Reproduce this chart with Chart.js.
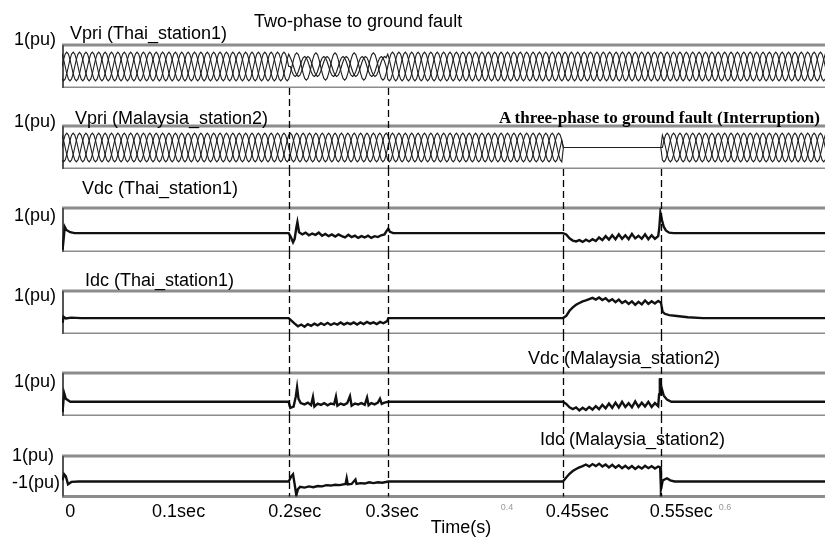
<!DOCTYPE html>
<html>
<head>
<meta charset="utf-8">
<script src="https://cdn.jsdelivr.net/npm/chart.js@4.4.1/dist/chart.umd.min.js"></script>
<style>
  html, body { margin: 0; padding: 0; background: #fff; }
  body { width: 825px; height: 540px; overflow: hidden; position: relative; }
  .panel { position: absolute; left: 0; }
  .lbl {
    position: absolute; font-family: 'Liberation Sans', Arial, sans-serif; font-size: 18px;
    line-height: 1; transform: translateY(-50%); white-space: nowrap; color: #000; z-index: 5;
  }
  .pu { text-align: right; }
  .serif { font-family: 'Liberation Serif', 'Times New Roman', serif; font-weight: bold; font-size: 17px; }
</style>
</head>
<body>

<canvas id="p1" class="panel" width="860" height="88" style="top:0px"></canvas>
<canvas id="p2" class="panel" width="860" height="81" style="top:88px"></canvas>
<canvas id="p3" class="panel" width="860" height="83" style="top:169px"></canvas>
<canvas id="p4" class="panel" width="860" height="82" style="top:252px"></canvas>
<canvas id="p5" class="panel" width="860" height="82" style="top:334px"></canvas>
<canvas id="p6" class="panel" width="860" height="124" style="top:416px"></canvas>

<div class="lbl" style="left:254px; top:21px">Two-phase to ground fault</div>
<div class="lbl" style="left:70px; top:33px">Vpri (Thai_station1)</div>
<div class="lbl pu" style="right:769px; top:39px">1(pu)</div>
<div class="lbl" style="left:75px; top:118px">Vpri (Malaysia_station2)</div>
<div class="lbl pu" style="right:769px; top:121px">1(pu)</div>
<div class="lbl serif" style="left:499px; top:117px">A three-phase to ground fault (Interruption)</div>
<div class="lbl" style="left:82px; top:188px">Vdc (Thai_station1)</div>
<div class="lbl pu" style="right:769px; top:215px">1(pu)</div>
<div class="lbl" style="left:85px; top:280px">Idc (Thai_station1)</div>
<div class="lbl pu" style="right:769px; top:295px">1(pu)</div>
<div class="lbl" style="left:528px; top:358px">Vdc (Malaysia_station2)</div>
<div class="lbl pu" style="right:769px; top:381px">1(pu)</div>
<div class="lbl" style="left:540px; top:439px">Idc (Malaysia_station2)</div>
<div class="lbl pu" style="right:771px; top:455px">1(pu)</div>
<div class="lbl pu" style="right:765px; top:482px">-1(pu)</div>

<script>
// time axis (s)
const xMin = -0.0055
const xMax = 0.7233
const eventTimes = [0.202, 0.292, 0.452, 0.542]

// bottom axis labels
const tickValues = [0.002, 0.101, 0.207, 0.296, 0.401, 0.465, 0.56, 0.6]
const tickLabels = ['0', '0.1sec', '0.2sec', '0.3sec', '0.4', '0.45sec', '0.55sec', '0.6']
const minorTickLabels = ['0.4', '0.6']

// one cycle of a primary phase voltage (pu)
const cycleShape = [0, 0.5, 0.87, 1, 0.87, 0.5, 0, -0.5, -0.87, -1, -0.87, -0.5]
const vpriPeriod = 0.0175

// Thai station: before / during / after the two-phase fault
const thaiEdges = [0.202, 0.292]
const thaiAmpA = [1, 0.95, 1]
const thaiAmpB = [1, 0.7, 1]
const thaiAmpC = [1, 0.7, 1]
const thaiShiftA = [0, 0, 0]
const thaiShiftB = [4, 5, 4]
const thaiShiftC = [8, 7, 8]

// Malaysia station: before / during / after the three-phase interruption
const malayEdges = [0.452, 0.542]
const malayAmp = [1, 0, 1]
const malayShiftA = [0, 0, 0]
const malayShiftB = [4, 4, 4]
const malayShiftC = [8, 8, 8]

// DC quantities, [time s, level] with the panel spanning 0..1
const vdcThai = [
    [-0.005, 0.05], [-0.004, 0.30], [-0.003, 0.57], [-0.0015, 0.50], [0.002, 0.45], [0.006, 0.43],
    [0.2015, 0.43], [0.2035, 0.34], [0.2055, 0.22], [0.207, 0.30], [0.2085, 0.55], [0.2095, 0.68],
    [0.211, 0.45], [0.214, 0.40], [0.217, 0.44], [0.220, 0.38], [0.223, 0.42], [0.226, 0.39],
    [0.229, 0.44], [0.232, 0.37], [0.235, 0.41], [0.238, 0.36], [0.241, 0.40], [0.244, 0.35],
    [0.247, 0.40], [0.250, 0.36], [0.253, 0.33], [0.256, 0.39], [0.259, 0.34], [0.262, 0.37],
    [0.265, 0.32], [0.268, 0.36], [0.271, 0.33], [0.274, 0.37], [0.277, 0.32], [0.280, 0.36],
    [0.283, 0.34], [0.286, 0.38], [0.289, 0.40], [0.291, 0.48], [0.2925, 0.53], [0.294, 0.46],
    [0.297, 0.43], [0.452, 0.43], [0.455, 0.40], [0.458, 0.31], [0.461, 0.26], [0.464, 0.24],
    [0.467, 0.27], [0.470, 0.23], [0.473, 0.28], [0.476, 0.24], [0.479, 0.29], [0.482, 0.25],
    [0.485, 0.33], [0.488, 0.27], [0.491, 0.36], [0.494, 0.28], [0.497, 0.38], [0.500, 0.29],
    [0.503, 0.40], [0.506, 0.30], [0.509, 0.38], [0.512, 0.29], [0.515, 0.41], [0.518, 0.31],
    [0.521, 0.37], [0.524, 0.30], [0.527, 0.40], [0.530, 0.29], [0.533, 0.38], [0.536, 0.30],
    [0.539, 0.36], [0.540, 0.55], [0.541, 0.89], [0.5425, 0.72], [0.544, 0.58], [0.546, 0.49],
    [0.549, 0.44], [0.553, 0.43], [0.7233, 0.43]
]

const idcThai = [
    [-0.005, 0.26], [-0.004, 0.40], [-0.002, 0.36], [0.003, 0.38], [0.012, 0.37],
    [0.2015, 0.37], [0.204, 0.31], [0.207, 0.24], [0.210, 0.18], [0.213, 0.22], [0.216, 0.17],
    [0.219, 0.23], [0.222, 0.19], [0.225, 0.24], [0.228, 0.20], [0.231, 0.25], [0.234, 0.21],
    [0.237, 0.26], [0.240, 0.21], [0.243, 0.25], [0.246, 0.22], [0.249, 0.27], [0.252, 0.22],
    [0.255, 0.26], [0.258, 0.23], [0.261, 0.27], [0.264, 0.22], [0.267, 0.27], [0.270, 0.23],
    [0.273, 0.28], [0.276, 0.24], [0.279, 0.27], [0.282, 0.23], [0.285, 0.28], [0.288, 0.25],
    [0.2915, 0.30], [0.2925, 0.37], [0.452, 0.37], [0.455, 0.42], [0.458, 0.54], [0.461, 0.62],
    [0.464, 0.68], [0.467, 0.72], [0.470, 0.76], [0.473, 0.78], [0.476, 0.81], [0.479, 0.84],
    [0.482, 0.80], [0.485, 0.85], [0.488, 0.79], [0.491, 0.83], [0.494, 0.76], [0.497, 0.81],
    [0.500, 0.74], [0.503, 0.80], [0.506, 0.72], [0.509, 0.77], [0.512, 0.70], [0.515, 0.76],
    [0.518, 0.68], [0.521, 0.75], [0.524, 0.69], [0.527, 0.78], [0.530, 0.70], [0.533, 0.76],
    [0.536, 0.71], [0.539, 0.77], [0.5415, 0.73], [0.543, 0.52], [0.545, 0.47], [0.549, 0.44],
    [0.556, 0.42], [0.566, 0.39], [0.580, 0.37], [0.7233, 0.37]
]

const vdcMalay = [
    [-0.005, 0.09], [-0.0042, 0.35], [-0.0035, 0.53], [-0.002, 0.40], [0.002, 0.33],
    [0.2015, 0.33], [0.203, 0.19], [0.206, 0.22], [0.208, 0.45], [0.2092, 0.67], [0.2105, 0.40],
    [0.2125, 0.30], [0.216, 0.27], [0.219, 0.31], [0.222, 0.25], [0.2237, 0.44], [0.225, 0.22],
    [0.228, 0.29], [0.231, 0.26], [0.234, 0.30], [0.237, 0.25], [0.240, 0.29], [0.243, 0.27],
    [0.2447, 0.45], [0.246, 0.24], [0.249, 0.29], [0.252, 0.26], [0.255, 0.30], [0.2575, 0.46],
    [0.259, 0.24], [0.262, 0.29], [0.265, 0.27], [0.268, 0.30], [0.271, 0.26], [0.2731, 0.43],
    [0.2745, 0.25], [0.277, 0.30], [0.280, 0.27], [0.283, 0.31], [0.2849, 0.40], [0.2865, 0.28],
    [0.289, 0.31], [0.2925, 0.33], [0.452, 0.33], [0.455, 0.28], [0.458, 0.20], [0.461, 0.16],
    [0.464, 0.20], [0.467, 0.13], [0.470, 0.19], [0.473, 0.14], [0.476, 0.21], [0.479, 0.15],
    [0.482, 0.23], [0.485, 0.16], [0.488, 0.26], [0.491, 0.18], [0.494, 0.29], [0.497, 0.19],
    [0.500, 0.31], [0.503, 0.20], [0.506, 0.33], [0.509, 0.21], [0.512, 0.30], [0.515, 0.20],
    [0.518, 0.34], [0.521, 0.21], [0.524, 0.31], [0.527, 0.22], [0.530, 0.33], [0.533, 0.21],
    [0.536, 0.30], [0.539, 0.23], [0.5398, 0.50], [0.5405, 0.88], [0.542, 0.66], [0.544, 0.48],
    [0.547, 0.38], [0.551, 0.33], [0.7233, 0.33]
]

const idcMalay = [
    [-0.005, 0.40], [-0.0035, 0.55], [-0.002, 0.50], [0.000, 0.30], [0.003, 0.36], [0.010, 0.37],
    [0.2015, 0.37], [0.204, 0.50], [0.2055, 0.55], [0.207, 0.30], [0.2085, 0.03], [0.210, 0.18],
    [0.212, 0.24], [0.216, 0.22], [0.220, 0.25], [0.224, 0.23], [0.228, 0.26], [0.232, 0.25],
    [0.236, 0.28], [0.240, 0.27], [0.244, 0.29], [0.248, 0.28], [0.2535, 0.31], [0.2545, 0.45],
    [0.2555, 0.30], [0.259, 0.31], [0.2625, 0.42], [0.2635, 0.31], [0.267, 0.33], [0.271, 0.32],
    [0.275, 0.35], [0.279, 0.33], [0.283, 0.35], [0.287, 0.34], [0.2925, 0.37], [0.452, 0.37],
    [0.455, 0.47], [0.458, 0.56], [0.461, 0.63], [0.464, 0.68], [0.467, 0.72], [0.470, 0.75],
    [0.473, 0.79], [0.476, 0.74], [0.479, 0.80], [0.482, 0.75], [0.485, 0.81], [0.488, 0.74],
    [0.491, 0.79], [0.494, 0.72], [0.497, 0.78], [0.500, 0.71], [0.503, 0.77], [0.506, 0.70],
    [0.509, 0.76], [0.512, 0.69], [0.515, 0.75], [0.518, 0.68], [0.521, 0.74], [0.524, 0.69],
    [0.527, 0.76], [0.530, 0.70], [0.533, 0.75], [0.536, 0.69], [0.539, 0.74], [0.5408, 0.72],
    [0.5415, 0.18], [0.5432, 0.40], [0.547, 0.45], [0.550, 0.40], [0.554, 0.37], [0.7233, 0.37]
]


// build a phase trace by walking the cycle shape with the segment amplitude / phase
function phaseSeries(edges, amps, shifts) {
    const step = vpriPeriod / cycleShape.length
    const pts = []
    for (let k = 0; xMin + k * step <= xMax; k++) {
        const t = xMin + k * step
        let seg = 0
        while (seg < edges.length && t >= edges[seg]) seg++
        const i = (k + shifts[seg]) % cycleShape.length
        pts.push({ x: t, y: amps[seg] * cycleShape[i] })
    }
    return pts
}

const toPoints = arr => arr.map(p => ({ x: p[0], y: p[1] }))

// frame around each panel and the dashed fault markers
const panelFrame = {
    id: 'panelFrame',
    beforeDatasetsDraw(chart) {
        const { ctx, chartArea: a } = chart
        ctx.save()
        ctx.strokeStyle = '#8c8c8c'
        ctx.lineWidth = 3
        ctx.beginPath()
        ctx.moveTo(a.left, a.top); ctx.lineTo(a.right, a.top)
        ctx.moveTo(a.left, a.bottom); ctx.lineTo(a.right, a.bottom)
        ctx.stroke()
        ctx.strokeStyle = '#555'
        ctx.lineWidth = 2
        ctx.beginPath()
        ctx.moveTo(a.left + 1, a.top); ctx.lineTo(a.left + 1, a.bottom)
        ctx.stroke()
        ctx.restore()
    },
    afterDatasetsDraw(chart, args, opts) {
        const { ctx, chartArea: a } = chart
        const x = chart.scales.x
        ctx.save()
        ctx.strokeStyle = '#000'
        ctx.lineWidth = 1.3
        ctx.setLineDash([7, 4])
        ;(opts.lines || []).forEach(t => {
            const px = Math.round(x.getPixelForValue(t)) + 0.5
            ctx.beginPath()
            ctx.moveTo(px, 0)
            ctx.lineTo(px, a.bottom)
            ctx.stroke()
        })
        ctx.restore()
    }
}

const WAVE_COLOR = '#1e1e1e'
const DC_COLOR = '#111'

function waveSet(data) {
    return { data, borderColor: WAVE_COLOR, borderWidth: 1.1, pointRadius: 0, tension: 0 }
}
function dcSet(data) {
    return { data: toPoints(data), borderColor: DC_COLOR, borderWidth: 2.4, pointRadius: 0, tension: 0 }
}

function makePanel(id, datasets, yMin, yMax, padTop, lines, withAxis) {
    const xScale = {
        type: 'linear', min: xMin, max: xMax, display: !!withAxis,
        grid: { display: false, drawTicks: false },
        border: { display: false },
        afterBuildTicks: s => { s.ticks = tickValues.map(v => ({ value: v })) },
        ticks: {
            autoSkip: false, maxRotation: 0, padding: 7, color: ctx => minorTickLabels.includes(tickLabels[ctx.index]) ? '#9a9a9a' : '#000',
            font: ctx => minorTickLabels.includes(tickLabels[ctx.index])
                ? { family: "'Liberation Sans', Arial, sans-serif", size: 9, lineHeight: 1 }
                : { family: "'Liberation Sans', Arial, sans-serif", size: 18, lineHeight: 1 },
            callback: (v, i) => tickLabels[i]
        },
        title: {
            display: true, text: 'Time(s)', color: '#000', padding: 0,
            font: { family: "'Liberation Sans', Arial, sans-serif", size: 18, lineHeight: 1 }
        }
    }
    return new Chart(document.getElementById(id), {
        type: 'line',
        data: { datasets },
        options: {
            responsive: false,
            animation: false,
            devicePixelRatio: 1,
            events: [],
            parsing: false,
            normalized: true,
            layout: { padding: { left: 62, right: 0, top: padTop, bottom: withAxis ? 3 : 0 } },
            plugins: { legend: { display: false }, tooltip: { enabled: false }, panelFrame: { lines } },
            scales: {
                x: xScale,
                y: { type: 'linear', min: yMin, max: yMax, display: false }
            }
        },
        plugins: [panelFrame]
    })
}

makePanel('p1', [
    waveSet(phaseSeries(thaiEdges, thaiAmpA, thaiShiftA)),
    waveSet(phaseSeries(thaiEdges, thaiAmpB, thaiShiftB)),
    waveSet(phaseSeries(thaiEdges, thaiAmpC, thaiShiftC))
], -1.5, 1.5, 45, [], false)

makePanel('p2', [
    waveSet(phaseSeries(malayEdges, malayAmp, malayShiftA)),
    waveSet(phaseSeries(malayEdges, malayAmp, malayShiftB)),
    waveSet(phaseSeries(malayEdges, malayAmp, malayShiftC))
], -1.5, 1.5, 38, eventTimes.slice(0, 2), false)

makePanel('p3', [dcSet(vdcThai)], 0, 1, 39, eventTimes, false)
makePanel('p4', [dcSet(idcThai)], 0, 1, 39, eventTimes, false)
makePanel('p5', [dcSet(vdcMalay)], 0, 1, 39, eventTimes, false)
makePanel('p6', [dcSet(idcMalay)], 0, 1, 40, eventTimes, true)
</script>
</body>
</html>
